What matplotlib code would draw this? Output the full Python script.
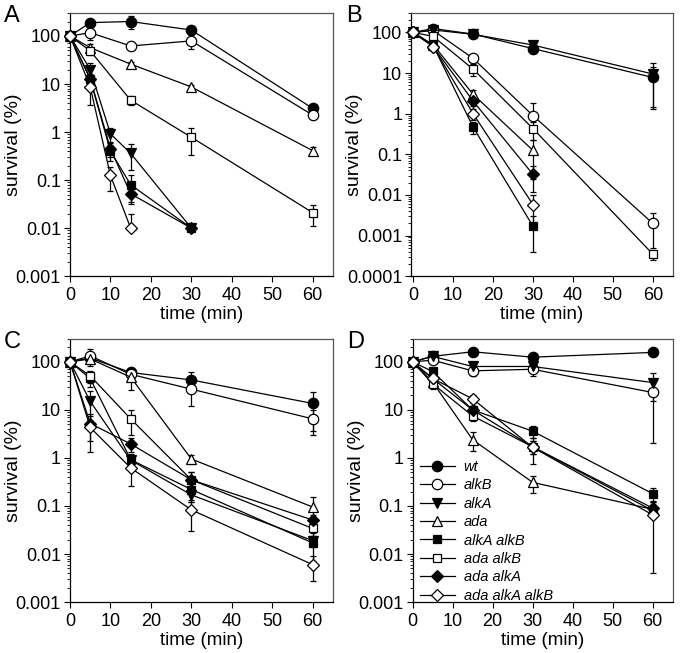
import numpy as np
import matplotlib
matplotlib.use("Agg")
import matplotlib.pyplot as plt
from matplotlib.ticker import FixedLocator, LogLocator, NullFormatter

plt.rcParams['font.family'] = ['Liberation Sans', 'DejaVu Sans']

strains = ["wt", "alkB", "alkA", "ada", "alkA alkB", "ada alkB", "ada alkA", "ada alkA alkB"]

# ---- Panel A ----
A_times = [
    [0, 5, 15, 30, 60],
    [0, 5, 15, 30, 60],
    [0, 5, 10, 15, 30],
    [0, 5, 15, 30, 60],
    [0, 5, 10, 15, 30],
    [0, 5, 15, 30, 60],
    [0, 5, 10, 15, 30],
    [0, 5, 10, 15],
]
A_values = [
    [100, 190, 200, 133, 3.1],
    [100, 117, 62, 79, 2.25],
    [100, 20, 0.92, 0.36, 0.01],
    [100, 57, 26, 8.7, 0.41],
    [100, 12.5, 0.4, 0.08, 0.01],
    [100, 49, 4.6, 0.78, 0.021],
    [100, 13, 0.45, 0.052, 0.01],
    [100, 8.7, 0.125, 0.01],
]
A_errors = [
    [0, 30, 60, 25, 0.4],
    [0, 35, 5, 25, 0.35],
    [0, 8, 0.3, 0.2, 0],
    [0, 10, 3, 1, 0.08],
    [0, 3, 0.15, 0.045, 0],
    [0, 8, 1, 0.45, 0.01],
    [0, 3, 0.15, 0.02, 0],
    [0, 5, 0.065, 0.01],
]

# ---- Panel B ----
B_times = [
    [0, 5, 15, 30, 60],
    [0, 5, 15, 30, 60],
    [0, 5, 15, 30, 60],
    [0, 5, 15, 30],
    [0, 5, 15, 30],
    [0, 5, 15, 30, 60],
    [0, 5, 15, 30],
    [0, 5, 15, 30],
]
B_values = [
    [100, 125, 91, 40, 7.8],
    [100, 112, 23, 0.9, 0.002],
    [100, 115, 90, 49, 9.5],
    [100, 50, 3.0, 0.125],
    [100, 48, 0.47, 0.0017],
    [100, 80, 12.5, 0.43, 0.00035],
    [100, 45, 2.05, 0.032],
    [100, 45, 1.0, 0.0058],
]
B_errors = [
    [0, 10, 8, 8, 6.5],
    [0, 10, 4, 0.9, 0.0015],
    [0, 10, 8, 8, 8],
    [0, 8, 0.8, 0.1],
    [0, 8, 0.15, 0.0013],
    [0, 10, 4, 0.2, 0.0001],
    [0, 8, 0.5, 0.02],
    [0, 8, 0.3, 0.004],
]

# ---- Panel C ----
C_times = [[0, 5, 15, 30, 60]] * 8
C_values = [
    [100, 120, 60, 42, 13.6],
    [100, 133, 55, 27, 6.5],
    [100, 15, 0.9, 0.17, 0.019],
    [100, 115, 48, 0.95, 0.095],
    [100, 45, 0.92, 0.22, 0.017],
    [100, 51, 6.5, 0.35, 0.034],
    [100, 5.2, 1.95, 0.35, 0.051],
    [100, 4.3, 0.62, 0.083, 0.006],
]
C_errors = [
    [0, 20, 10, 18, 10],
    [0, 50, 10, 15, 3.5],
    [0, 10, 0.2, 0.05, 0.005],
    [0, 25, 22, 0.2, 0.06],
    [0, 15, 0.3, 0.1, 0.01],
    [0, 15, 3.5, 0.15, 0.01],
    [0, 3, 0.6, 0.15, 0.015],
    [0, 3, 0.36, 0.053, 0.0033],
]

# ---- Panel D ----
D_times = [[0, 5, 15, 30, 60]] * 8
D_values = [
    [100, 130, 162, 125, 157],
    [100, 108, 65, 70, 23],
    [100, 130, 80, 80, 37],
    [100, 38, 2.4, 0.31, 0.085],
    [100, 63, 10, 3.6, 0.18],
    [100, 35, 7.5, 1.7, 0.08],
    [100, 45, 10, 1.7, 0.09],
    [100, 45, 17, 1.66, 0.065],
]
D_errors = [
    [0, 10, 10, 10, 10],
    [0, 10, 15, 20, 21],
    [0, 15, 12, 15, 22],
    [0, 5, 1.0, 0.12, 0.02],
    [0, 8, 2, 1.0, 0.06],
    [0, 8, 1.5, 0.5, 0.02],
    [0, 8, 2, 0.5, 0.03],
    [0, 8, 3, 0.9, 0.061],
]

markers = ["o", "o", "v", "^", "s", "s", "D", "D"]
fills = ["black", "white", "black", "white", "black", "white", "black", "white"]
msizes = [7.5, 7.5, 7, 7, 6.3, 6.3, 6, 6]

fig = plt.figure(figsize=(6.83, 6.53), dpi=100)
axes_rects = {
    "A": [0.1025, 0.577, 0.385, 0.403],
    "B": [0.602, 0.577, 0.383, 0.403],
    "C": [0.1025, 0.078, 0.385, 0.403],
    "D": [0.604, 0.078, 0.381, 0.403],
}
panels = {
    "A": (A_times, A_values, A_errors, 0.001, [0, 65]),
    "B": (B_times, B_values, B_errors, 0.0001, [-0.5, 65]),
    "C": (C_times, C_values, C_errors, 0.001, [0, 65]),
    "D": (D_times, D_values, D_errors, 0.001, [0, 65]),
}
ytick_labels = {0.0001: "0.0001", 0.001: "0.001", 0.01: "0.01", 0.1: "0.1",
                1: "1", 10: "10", 100: "100"}

for name, (times, values, errors, ymin, xlim) in panels.items():
    ax = fig.add_axes(axes_rects[name])
    ax.set_yscale("log")
    for i in range(len(strains)):
        t = np.array(times[i], dtype=float)
        v = np.array(values[i], dtype=float)
        e = np.array(errors[i], dtype=float)
        lower = np.where(e >= v, 0.0, e)
        ax.errorbar(t, v, yerr=[lower, e], fmt="none", ecolor="black",
                    elinewidth=0.9, capsize=2.5, capthick=0.9, zorder=2 + i * 0.1)
        ax.plot(t, v, color="black", lw=0.9, marker=markers[i],
                markerfacecolor=fills[i], markeredgecolor="black",
                markeredgewidth=0.9, markersize=msizes[i],
                label=strains[i], zorder=3 + i * 0.1, clip_on=False)
    ax.set_xlim(*xlim)
    ax.set_ylim(ymin, 300)
    ax.set_xticks([0, 10, 20, 30, 40, 50, 60])
    majors = [y for y in ytick_labels if y >= ymin]
    ax.yaxis.set_major_locator(FixedLocator(majors))
    ax.set_yticklabels([ytick_labels[y] for y in majors])
    ax.yaxis.set_minor_locator(LogLocator(base=10, subs=np.arange(2, 10), numticks=20))
    ax.yaxis.set_minor_formatter(NullFormatter())
    ax.tick_params(axis="both", which="major", direction="out", length=4,
                   width=0.8, labelsize=13)
    ax.tick_params(axis="x", which="major", pad=4)
    ax.tick_params(axis="y", which="major", pad=2.5)
    ax.tick_params(axis="y", which="minor", direction="out", length=2, width=0.6)
    ax.tick_params(top=False, right=False)
    for s in ["top", "right"]:
        ax.spines[s].set_color("#555555")
    for s in ax.spines.values():
        s.set_linewidth(0.9)
    ax.set_xlabel("time (min)", fontsize=13.5, labelpad=1)
    ax.set_ylabel("survival (%)", fontsize=14, va="center")
    ax.yaxis.set_label_coords(-0.215, 0.5)
    ax.text(-0.22, 0.99, name, transform=ax.transAxes, fontsize=17,
            ha="center", va="center")
    if name == "D":
        leg = ax.legend(loc="lower left", frameon=False, fontsize=10.5,
                        handlelength=2.4, handletextpad=0.6, labelspacing=0.3,
                        borderaxespad=0.1, bbox_to_anchor=(0.0, -0.03))
        for txt in leg.get_texts():
            txt.set_fontstyle("italic")

fig.savefig("out.png", dpi=100)
